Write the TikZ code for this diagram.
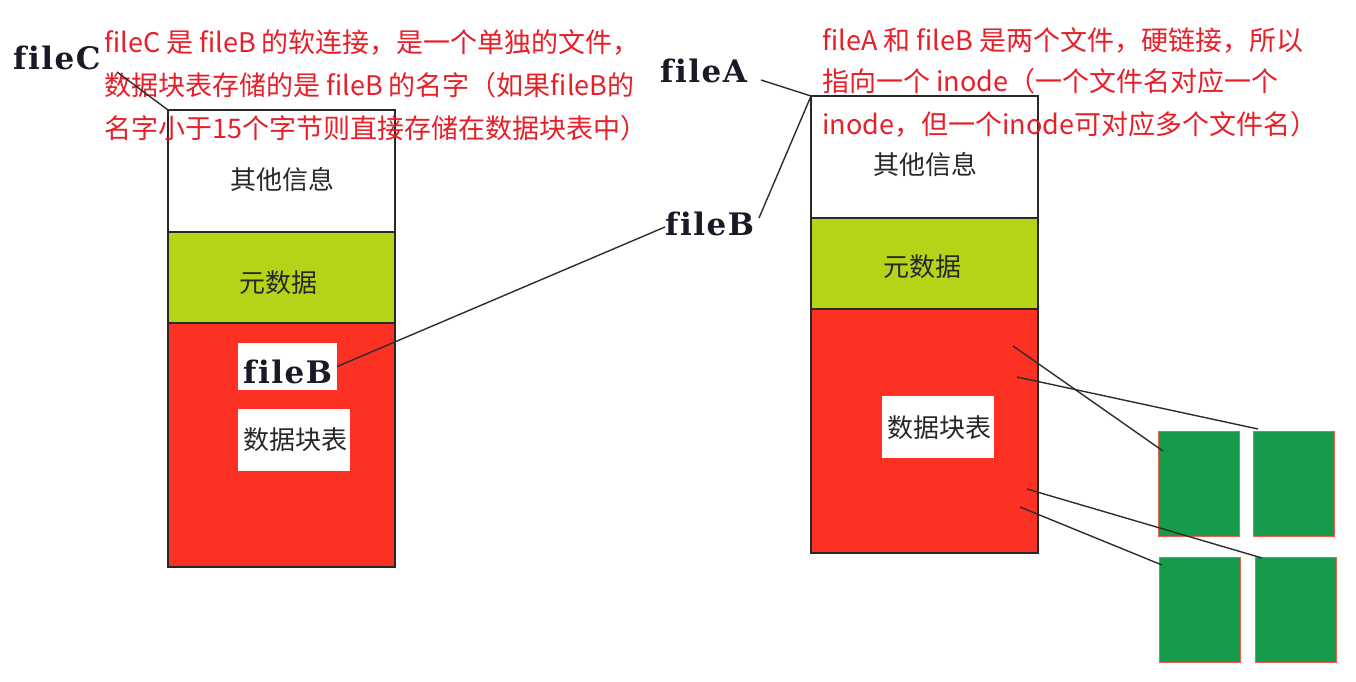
\documentclass[tikz,border=0pt]{standalone}
\usepackage{fontspec}
\setmainfont{Noto Sans CJK SC}
\newfontfamily\lblfont[LetterSpace=5,Ligatures={NoCommon},BoldFont={DejaVu Serif Bold}]{DejaVu Serif}
\definecolor{txtred}{RGB}{232,30,40}
\definecolor{metagreen}{RGB}{181,212,24}
\definecolor{datared}{RGB}{253,48,36}
\definecolor{blockgreen}{RGB}{22,155,74}
\definecolor{blockedge}{RGB}{240,95,85}
\definecolor{edgecol}{RGB}{40,40,40}
\definecolor{txtgray}{RGB}{40,40,40}
\definecolor{lblcol}{RGB}{25,25,40}
\definecolor{linecol}{RGB}{45,45,45}
\begin{document}
\begin{tikzpicture}[x=1pt,y=-1pt,
  sec/.style={draw=edgecol, line width=1.3pt, minimum width=227pt, inner sep=0pt, outer sep=0pt},
  boxtxt/.style={text=txtgray, font=\fontsize{26}{30}\selectfont, inner sep=0pt},
  redtxtL/.style={text=txtred, anchor=base west, inner sep=0pt, font=\fontsize{27}{32}\selectfont},
  redtxtR/.style={text=txtred, anchor=base west, inner sep=0pt, font=\fontsize{27}{32}\selectfont},
  fname/.style={font=\lblfont\bfseries\fontsize{31}{34}\selectfont, text=lblcol, anchor=base west, inner sep=0pt},
  whitebox/.style={fill=white, draw=none, inner sep=0pt},
  blk/.style={fill=blockgreen, draw=blockedge, line width=0.9pt, minimum width=81pt, minimum height=105pt, inner sep=0pt},
  link/.style={draw=linecol, line width=1.4pt}
]
\fill[white] (0,0) rectangle (1356,682);
\useasboundingbox (0,0) rectangle (1356,682);

% left inode (fileC)
\node[sec, fill=white, minimum height=122pt] (Lother) at (281.5,171) {};
\node[sec, fill=metagreen, minimum height=91pt] (Lmeta) at (281.5,277.5) {};
\node[sec, fill=datared, minimum height=244pt] (Ldata) at (281.5,445) {};
\node[boxtxt] (LotherT) at (282,180) {其他信息};
\node[boxtxt] (LmetaT) at (278,283) {元数据};
\node[whitebox, minimum width=99pt, minimum height=47pt] (LfbBox) at (287.5,366.5) {};
\node[fname] (LfbT) at (243,383) {fileB};
\node[whitebox, minimum width=112pt, minimum height=62pt] (LtblBox) at (294,440) {};
\node[boxtxt] (LtblT) at (295,440) {数据块表};

% right inode (fileA / fileB)
\node[sec, fill=white, minimum height=122pt] (Rother) at (924.5,157) {};
\node[sec, fill=metagreen, minimum height=91pt] (Rmeta) at (924.5,263.5) {};
\node[sec, fill=datared, minimum height=244pt] (Rdata) at (924.5,431) {};
\node[boxtxt] (RotherT) at (925,165) {其他信息};
\node[boxtxt] (RmetaT) at (922,267) {元数据};
\node[whitebox, minimum width=112pt, minimum height=62pt] (RtblBox) at (938,427) {};
\node[boxtxt] (RtblT) at (939,428) {数据块表};

% data blocks
\node[blk] (gTL) at (1198.5,483.5) {};
\node[blk] (gTR) at (1294,483.5) {};
\node[blk] (gBL) at (1200,610) {};
\node[blk] (gBR) at (1295.5,610) {};

% file names
\node[fname] (fileC) at (13,70) {fileC};
\node[fname] (fileA) at (660,83) {fileA};
\node[fname] (fileB) at (665,235) {fileB};

% notes
\node[redtxtL] (noteL1) at (104,53) {fileC 是 fileB 的软连接，是一个单独的文件，};
\node[redtxtL] (noteL2) at (104,96) {数据块表存储的是 fileB 的名字（如果fileB的};
\node[redtxtL] (noteL3) at (104,139) {名字小于15个字节则直接存储在数据块表中）};
\node[redtxtR] (noteR1) at (822,51) {fileA 和 fileB 是两个文件，硬链接，所以};
\node[redtxtR] (noteR2) at (822,92) {指向一个 inode（一个文件名对应一个};
\node[redtxtR] (noteR3) at (822,135) {inode，但一个inode可对应多个文件名）};

% connectors
\coordinate (cC) at (117,72);
\draw[link] (cC) -- (Lother.north west);
\coordinate (cA) at (761,80);
\draw[link] (cA) -- (Rother.north west);
\coordinate (cB) at (759,218);
\draw[link] (cB) -- (Rother.north west);
\coordinate (cBin) at (665,227);
\draw[link] (LfbBox.east) -- (cBin);

\coordinate (p1) at (1013,346); \coordinate (q1) at (1163,451);
\coordinate (p2) at (1017,377); \coordinate (q2) at (1258,429);
\coordinate (p3) at (1027,489); \coordinate (q3) at (1262,558);
\coordinate (p4) at (1020,507); \coordinate (q4) at (1162,565);
\draw[link] (p1) -- (q1);
\draw[link] (p2) -- (q2);
\draw[link] (p3) -- (q3);
\draw[link] (p4) -- (q4);
\end{tikzpicture}
\end{document}
